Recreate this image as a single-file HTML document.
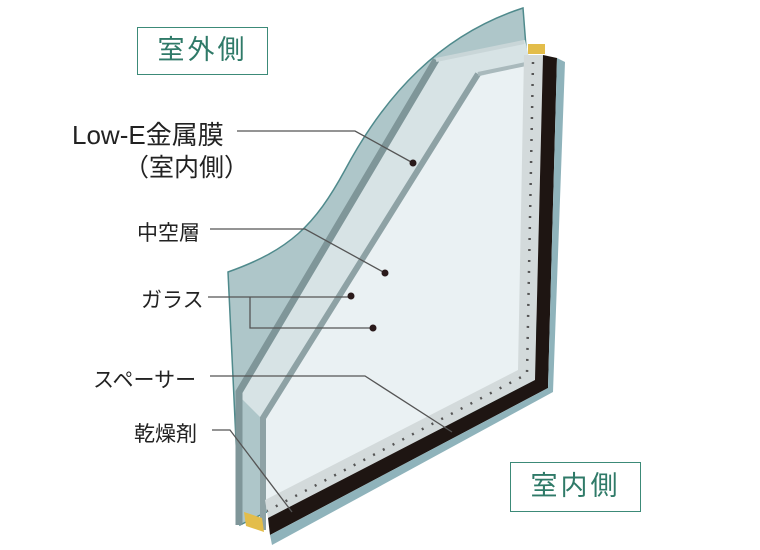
<!DOCTYPE html>
<html><head><meta charset="utf-8">
<style>
html,body{margin:0;padding:0;background:#fff;}
body{width:760px;height:550px;position:relative;overflow:hidden;font-family:"Liberation Sans","Noto Sans CJK JP",sans-serif;}
.t{position:absolute;color:#222;white-space:nowrap;}
.box{position:absolute;border:1.5px solid #3c8a78;color:#2f7a68;font-size:27px;text-align:center;letter-spacing:3px;box-sizing:border-box;}
</style></head><body>
<svg width="760" height="550" style="position:absolute;left:0;top:0">
  <path d="M228,272 C290,250 315,225 345,170 C385,95 440,35 523,8 L527,60 L538,380 L240,525 Z" fill="#aec6c9" stroke="#4f8a8c" stroke-width="1.5"/>
  <polygon points="433,62 525,40 530,62 477,77 263,420 238,395" fill="#d7e3e5"/>
  <polygon points="477,77 528,63 522,370 265,505 263,420" fill="#eaf1f3"/>
  <polyline points="436,60 239,392 239,525" fill="none" stroke="#7f9699" stroke-width="7"/>
  <polyline points="478,74 263,418 263,530" fill="none" stroke="#8ea2a5" stroke-width="6"/>
  <line x1="436" y1="60" x2="524" y2="42" stroke="#c9d6d8" stroke-width="4"/>
  <line x1="478" y1="74" x2="526" y2="64" stroke="#a9b9bc" stroke-width="4"/>
  <polygon points="524,55 543,55 535,380 268,518 265,500 518,370" fill="#d3dadb"/>
  <polyline points="533,62 527,374 267,511" fill="none" stroke="#555" stroke-width="2.5" stroke-dasharray="2,9"/>
  <polygon points="543,55 557,58 548,388 270,535 268,518 535,380" fill="#1e1512"/>
  <polygon points="557,58 565,62 553,392 272,545 270,535 548,388" fill="#8fb3bb"/>
  <rect x="528" y="44" width="17" height="10" fill="#e3bd4a"/>
  <polygon points="244,512 262,518 264,532 246,526" fill="#e3bd4a"/>
  <g fill="none" stroke="#555" stroke-width="1.3">
    <polyline points="237,131 355,131 413,163"/>
    <polyline points="210,229 305,229 385,273"/>
    <polyline points="208,297 351,297"/>
    <polyline points="250,297 250,328 373,328"/>
    <polyline points="210,376 365,376 452,432"/>
    <polyline points="212,430 230,430 292,512"/>
  </g>
  <g fill="#2a1a1a">
    <circle cx="413" cy="163" r="3.5"/>
    <circle cx="385" cy="273" r="3.5"/>
    <circle cx="351" cy="296" r="3.5"/>
    <circle cx="373" cy="328" r="3.5"/>
  </g>
</svg>
<div class="box" style="left:137px;top:27px;width:131px;height:48px;line-height:44px;">室外側</div>
<div class="box" style="left:510px;top:462px;width:131px;height:50px;line-height:46px;">室内側</div>
<div class="t" style="left:72px;top:115px;font-size:26px;">Low-E金属膜</div>
<div class="t" style="left:124px;top:148px;font-size:25px;">（室内側）</div>
<div class="t" style="left:137px;top:217px;font-size:21px;">中空層</div>
<div class="t" style="left:141px;top:284px;font-size:21px;">ガラス</div>
<div class="t" style="left:93px;top:364px;font-size:21px;">スペーサー</div>
<div class="t" style="left:134px;top:418px;font-size:21px;">乾燥剤</div>
</body></html>
